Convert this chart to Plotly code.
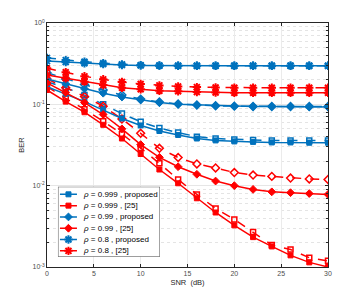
import plotly.graph_objects as go

snr = [0, 2, 4, 6, 8, 10, 12, 14, 16, 18, 20, 22, 24, 26, 28, 30]

# rho = 0.999
prop_999_solid = [0.165, 0.135, 0.108, 0.085, 0.067, 0.055, 0.047, 0.042, 0.038, 0.036, 0.035, 0.0345, 0.034, 0.034, 0.0337, 0.0337]
prop_999_dash = [0.19, 0.160, 0.130, 0.100, 0.077, 0.061, 0.051, 0.045, 0.040, 0.038, 0.037, 0.0365, 0.036, 0.036, 0.0358, 0.0358]
ref_999_solid = [0.150, 0.108, 0.080, 0.056, 0.038, 0.0245, 0.0158, 0.0107, 0.0070, 0.00468, 0.00325, 0.00233, 0.00179, 0.00139, 0.00114, 0.00100]
ref_999_dash = [0.165, 0.118, 0.087, 0.062, 0.043, 0.029, 0.0188, 0.0119, 0.0078, 0.00525, 0.00385, 0.00269, 0.00186, 0.00164, 0.0013, 0.00119]

# rho = 0.99
prop_99_solid = [0.205, 0.178, 0.155, 0.137, 0.123, 0.113, 0.105, 0.100, 0.098, 0.096, 0.095, 0.094, 0.094, 0.094, 0.093, 0.093]
prop_99_dash = [0.245, 0.205, 0.175, 0.150, 0.130, 0.116, 0.107, 0.101, 0.098, 0.096, 0.095, 0.094, 0.094, 0.094, 0.094, 0.094]
ref_99_solid = [0.183, 0.140, 0.105, 0.075, 0.050, 0.032, 0.0223, 0.0171, 0.0138, 0.0114, 0.0100, 0.0090, 0.0084, 0.0082, 0.0080, 0.0078]
ref_99_dash = [0.205, 0.160, 0.125, 0.095, 0.066, 0.044, 0.0288, 0.0222, 0.0185, 0.0165, 0.0145, 0.0135, 0.0130, 0.0124, 0.0121, 0.0119]

# rho = 0.8
prop_8_solid = [0.340, 0.330, 0.320, 0.312, 0.305, 0.301, 0.299, 0.298, 0.298, 0.298, 0.298, 0.298, 0.298, 0.298, 0.298, 0.298]
prop_8_dash = [0.372, 0.350, 0.334, 0.320, 0.310, 0.303, 0.300, 0.299, 0.298, 0.298, 0.298, 0.298, 0.298, 0.298, 0.298, 0.298]
ref_8_solid = [0.229, 0.209, 0.190, 0.173, 0.160, 0.153, 0.147, 0.1445, 0.1417, 0.140, 0.139, 0.139, 0.139, 0.139, 0.139, 0.139]
ref_8_dash = [0.277, 0.248, 0.221, 0.203, 0.188, 0.178, 0.171, 0.166, 0.163, 0.161, 0.160, 0.160, 0.160, 0.160, 0.160, 0.160]

labels = ["<i>ρ</i> = 0.999 , proposed", "<i>ρ</i> = 0.999 , [25]",
          "<i>ρ</i> = 0.99 , proposed", "<i>ρ</i> = 0.99 , [25]",
          "<i>ρ</i> = 0.8 , proposed", "<i>ρ</i> = 0.8 , [25]"]

BLUE = "#0072BD"
RED = "#FF0000"
MSIZE = {"square": 5, "diamond": 6, "asterisk": 7}
OPEN = {"square": "square-open", "diamond": "diamond-open", "asterisk": "asterisk-open"}

series = [
    (prop_999_solid, prop_999_dash, BLUE, "square", labels[0]),
    (ref_999_solid, ref_999_dash, RED, "square", labels[1]),
    (prop_99_solid, prop_99_dash, BLUE, "diamond", labels[2]),
    (ref_99_solid, ref_99_dash, RED, "diamond", labels[3]),
    (prop_8_solid, prop_8_dash, BLUE, "asterisk", labels[4]),
    (ref_8_solid, ref_8_dash, RED, "asterisk", labels[5]),
]

def mk(sym, col, filled):
    w = 2 if sym == "asterisk" else (1 if filled else 1.5)
    return dict(symbol=sym if filled else OPEN[sym], size=MSIZE[sym], color=col,
                line=dict(color=col, width=w))

fig = go.Figure()
for solid, dash, col, sym, name in series:
    fig.add_trace(go.Scatter(
        x=snr, y=dash, mode="lines+markers", showlegend=False,
        line=dict(color=col, width=1.5, dash="dash"), marker=mk(sym, col, False),
    ))
for solid, dash, col, sym, name in series:
    fig.add_trace(go.Scatter(
        x=snr, y=solid, mode="lines+markers", showlegend=False,
        line=dict(color=col, width=1.5), marker=mk(sym, col, True),
    ))

# ---- manual compact legend on its own small subplot (box coordinates in px units) ----
BOX_W, BOX_H = 102, 70
fig.add_trace(go.Scatter(
    x=[0, BOX_W, BOX_W, 0, 0], y=[0, 0, BOX_H, BOX_H, 0], mode="lines",
    fill="toself", fillcolor="white", line=dict(color="#262626", width=0.8),
    xaxis="x2", yaxis="y2", showlegend=False, hoverinfo="skip", cliponaxis=False,
))
row_y = [BOX_H - 7.6 - 11.3 * i for i in range(6)]
for (solid, dash, col, sym, name), ry in zip(series, row_y):
    fig.add_trace(go.Scatter(
        x=[2, 19], y=[ry, ry], mode="lines", line=dict(color=col, width=1.5),
        xaxis="x2", yaxis="y2", showlegend=False, hoverinfo="skip", cliponaxis=False,
    ))
    fig.add_trace(go.Scatter(
        x=[10.5], y=[ry], mode="markers", marker=mk(sym, col, True),
        xaxis="x2", yaxis="y2", showlegend=False, hoverinfo="skip", cliponaxis=False,
    ))
    fig.add_annotation(x=23.5, y=ry, xref="x2", yref="y2", text=name, showarrow=False,
                       xanchor="left", yanchor="middle",
                       font=dict(size=8, color="#000000"))

axis_font = dict(family="Liberation Sans, Arial, sans-serif", size=7, color="#4d4d4d")

# page body has an 8px margin; margins below compensate so the axes land where the reference has them
fig.update_layout(
    width=363, height=300,
    margin=dict(l=39, r=43, t=15, b=41),
    paper_bgcolor="white", plot_bgcolor="rgba(0,0,0,0)",
    font=dict(family="Liberation Sans, Arial, sans-serif", size=7, color="#262626"),
    showlegend=False,
    xaxis=dict(
        range=[0, 30], tickvals=[0, 5, 10, 15, 20, 25, 30],
        showgrid=True, gridcolor="#ebebeb", gridwidth=1,
        showline=True, linecolor="#262626", linewidth=0.8, mirror="ticks",
        ticks="inside", ticklen=3, tickcolor="#262626",
        tickfont=axis_font, zeroline=False,
        title=dict(text="SNR  (dB)", font=dict(size=7.5, color="#262626"), standoff=3),
    ),
    yaxis=dict(
        type="log", range=[-3, 0],
        tickvals=[1, 0.1, 0.01, 0.001],
        ticktext=["10<sup>0</sup>", "10<sup>-1</sup>", "10<sup>-2</sup>", "10<sup>-3</sup>"],
        showgrid=True, gridcolor="#e6e6e6", gridwidth=1,
        minor=dict(tickvals=[k * 10 ** e for e in (-3, -2, -1) for k in range(2, 10)],
                   showgrid=True, gridcolor="#e4e4e4", griddash="dot", gridwidth=1,
                   ticks="inside", ticklen=2, tickcolor="#262626"),
        showline=True, linecolor="#262626", linewidth=0.8, mirror="ticks",
        ticks="inside", ticklen=3, tickcolor="#262626",
        tickfont=axis_font, zeroline=False,
        title=dict(text="BER", font=dict(size=7.5, color="#262626"), standoff=6),
    ),
    xaxis2=dict(domain=[0.039, 0.402], range=[0, BOX_W], visible=False, anchor="y2", fixedrange=True),
    yaxis2=dict(domain=[0.042, 0.329], range=[0, BOX_H], visible=False, anchor="x2", fixedrange=True),
)

fig.write_html("out.html")
